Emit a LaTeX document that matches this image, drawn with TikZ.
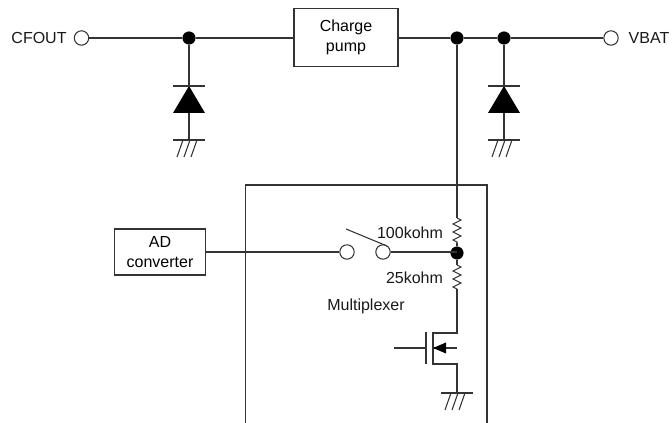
\documentclass[tikz,border=0pt]{standalone}
\usepackage{fontspec}
\setmainfont{Liberation Sans}
\usetikzlibrary{decorations.pathmorphing}
\definecolor{ink}{gray}{0.2}
\tikzset{
	wire/.style={draw=ink, line width=0.8pt},
	term/.style={draw=ink, circle, fill=white, line width=0.8pt, minimum size=10.8pt, inner sep=0pt},
	dot/.style={draw, circle, fill=black, minimum size=9.4pt, inner sep=0pt},
	block/.style={draw=ink, line width=0.8pt, align=center, inner sep=0pt},
	res/.style={wire, decorate, decoration={zigzag, amplitude=3pt, segment length=6pt}},
	lab/.style={inner sep=0pt, text=black!90},
	gnd/.pic={
		\draw[wire] (-16,0) -- (16,0);
		\foreach \i in {-6,1,8} \draw[wire] (\i,0) -- (\i-6,17);
	},
	diode/.pic={
		\fill (-16,27) -- (16,27) -- (0,0) -- cycle;
		\draw[wire] (-16,0) -- (16,0);
	}
}
\begin{document}
\begin{tikzpicture}[x=0.75pt, y=-0.75pt, font=\fontsize{12}{14.5}\selectfont]
	\useasboundingbox (0,0) rectangle (672,423);
	
	% top line
	\node[lab] (CFOUT) at (39,38) {CFOUT};
	\node[term] (TA) at (81.5,38) {};
	\node[block, minimum width=78pt, minimum height=43.2pt] (PUMP) at (346,37.5) {Charge\\pump};
	\node[term] (TB) at (611,38) {};
	\node[lab] (VBAT) at (649,38) {VBAT};
	\node[dot] (JA) at (189,38) {};
	\node[dot] (JB) at (457,38) {};
	\node[dot] (JC) at (504,38) {};
	
	\draw[wire] (TA) -- (JA) -- (JA -| PUMP.west);
	\draw[wire] (JB -| PUMP.east) -- (JB) -- (JC) -- (TB);
	
	% diodes
	\coordinate (GA) at (189,140);
	\coordinate (GB) at (504,140);
	\draw[wire] (JA) -- (GA);
	\draw[wire] (JC) -- (GB);
	\pic at (189,86) {diode};
	\pic at (504,86) {diode};
	\pic at (GA) {gnd};
	\pic at (GB) {gnd};
	
	% multiplexer
	\coordinate (ML) at (245.5,423);
	\coordinate (MT) at (245.5,185);
	\coordinate (MU) at (487,185);
	\coordinate (MR) at (487,423);
	\draw[wire] (ML) -- (MT) -- (MU) -- (MR);
	\node[lab] (MUX) at (366,306) {Multiplexer};
	
	\node[block, minimum width=68.8pt, minimum height=34.5pt] (AD) at (160,252) {AD\\converter};
	\node[term] (SA) at (347,252) {};
	\node[term] (SB) at (383,252) {};
	\node[dot] (JD) at (457,253) {};
	\coordinate (LV) at (346,229);
	\coordinate (LE) at (387,246);
	
	\draw[wire] (AD.east |- SA) -- (SA);
	\draw[wire] (SB) -- (SB -| JD);
	\draw[wire] (LV) -- (LE);
	
	% resistors
	\coordinate (RA) at (457,218);
	\coordinate (RB) at (457,243);
	\coordinate (RC) at (457,265);
	\coordinate (RD) at (457,289);
	\draw[wire] (JB) -- (RA);
	\draw[res] (RA) -- (RB);
	\draw[wire] (RB) -- (JD) -- (RC);
	\draw[res] (RC) -- (RD);
	\node[lab] (RU) at (410,232.5) {100kohm};
	\node[lab] (RL) at (414.5,278) {25kohm};
	
	% transistor
	\coordinate (DA) at (457,333);
	\coordinate (DB) at (433,333);
	\coordinate (SC) at (433,364);
	\coordinate (SD) at (457,364);
	\coordinate (GC) at (457,393);
	\coordinate (BM) at (433,348);
	\coordinate (BR) at (457,348);
	\coordinate (GP) at (394,348);
	\coordinate (GQ) at (426,348);
	\coordinate (GT) at (426,332);
	\coordinate (GD) at (426,364);
	\draw[wire] (RD) -- (DA) -- (DB) -- (SC) -- (SD) -- (GC);
	\draw[wire] (GP) -- (GQ);
	\draw[wire] (GT) -- (GD);
	\draw[wire] (BR) -- (BM);
	\fill (BM) -- (446,342.5) -- (446,353.5) -- cycle;
	\pic at (GC) {gnd};
\end{tikzpicture}
\end{document}
